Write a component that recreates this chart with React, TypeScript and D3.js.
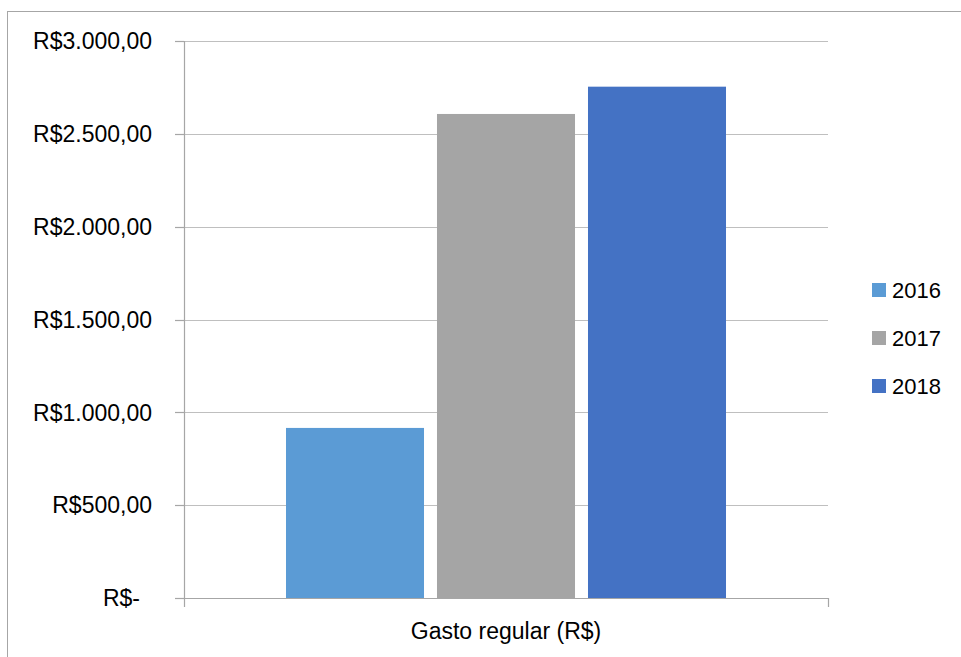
import React from "react";
import * as d3 from "d3";

const categories = ["Gasto regular (R$)"];
const years = ["2016", "2017", "2018"];
const values2016 = [916];
const values2017 = [2607];
const values2018 = [2754];
const yTicks = [0, 500, 1000, 1500, 2000, 2500, 3000];
const colors = ["#5B9BD5", "#A5A5A5", "#4472C4"];

const seriesValues = [values2016, values2017, values2018];

const W = 961;
const H = 657;
const margin = { left: 184, right: 133, top: 41, bottom: 59 };
const FONT = "'Liberation Sans', Arial, sans-serif";

function fmt(v: number): string {
  if (v === 0) return "R$-";
  const s = d3.format(",.2f")(v); // 3,000.00
  const br = s.replace(/,/g, "#").replace(".", ",").replace(/#/g, ".");
  return "R$" + br;
}

export default function App() {
  const x0 = margin.left;
  const x1 = W - margin.right;
  const y0 = H - margin.bottom;
  const yTop = margin.top;

  const y = d3.scaleLinear().domain([0, 3000]).range([y0, yTop]);
  const xCat = d3
    .scaleBand<string>()
    .domain(categories)
    .range([x0, x1])
    .paddingInner(0)
    .paddingOuter(0.2318);
  const xSeries = d3
    .scaleBand<string>()
    .domain(years)
    .range([0, xCat.bandwidth()])
    .paddingInner(0.086)
    .paddingOuter(0);

  return (
    <svg
      width={W}
      height={H}
      style={{ position: "absolute", left: 0, top: 0, background: "#fff" }}
    >
      <rect x={7.5} y={11.5} width={W + 10} height={H + 10} fill="#fff" stroke="#A6A6A6" strokeWidth={1} />
      {/* gridlines */}
      {yTicks.map((t) =>
        t === 0 ? null : (
          <line
            key={"g" + t}
            x1={x0}
            x2={x1}
            y1={Math.round(y(t)) + 0.5}
            y2={Math.round(y(t)) + 0.5}
            stroke="#BFBFBF"
            strokeWidth={1.2}
          />
        )
      )}
      {/* bars */}
      {categories.map((c, ci) =>
        years.map((yr, si) => {
          const v = seriesValues[si][ci];
          const bx = (xCat(c) as number) + (xSeries(yr) as number);
          return (
            <rect
              key={c + yr}
              x={bx}
              y={y(v)}
              width={xSeries.bandwidth()}
              height={y0 - y(v)}
              fill={colors[si]}
            />
          );
        })
      )}
      {/* axes */}
      <line x1={x0 + 0.5} x2={x0 + 0.5} y1={yTop} y2={y0 + 9} stroke="#A6A6A6" strokeWidth={1.2} />
      <line x1={x0 - 9} x2={x1} y1={Math.round(y0) + 0.5} y2={Math.round(y0) + 0.5} stroke="#A6A6A6" strokeWidth={1.2} />
      <line x1={x1 + 0.5} x2={x1 + 0.5} y1={y0} y2={y0 + 9} stroke="#A6A6A6" strokeWidth={1.2} />
      {yTicks.map((t) => (
        <line
          key={"t" + t}
          x1={x0 - 9}
          x2={x0}
          y1={Math.round(y(t)) + 0.5}
          y2={Math.round(y(t)) + 0.5}
          stroke="#A6A6A6"
          strokeWidth={1.2}
        />
      ))}
      {/* y labels */}
      {yTicks.map((t) => (
        <text
          key={"l" + t}
          x={t === 0 ? 140 : 152}
          y={y(t)}
          dy="0.36em"
          textAnchor="end"
          fontFamily={FONT}
          fontSize={23}
          fill="#000"
        >
          {fmt(t)}
        </text>
      ))}
      {/* x labels */}
      {categories.map((c) => (
        <text
          key={"x" + c}
          x={(xCat(c) as number) + xCat.bandwidth() / 2}
          y={639}
          textAnchor="middle"
          fontFamily={FONT}
          fontSize={23}
          fill="#000"
        >
          {c}
        </text>
      ))}
      {/* legend */}
      {years.map((yr, i) => (
        <g key={"lg" + yr} transform={`translate(872, ${283 + i * 48})`}>
          <rect x={0} y={0} width={14} height={14} fill={colors[i]} />
          <text x={20} y={7} dy="0.36em" fontFamily={FONT} fontSize={22} fill="#000">
            {yr}
          </text>
        </g>
      ))}
    </svg>
  );
}
